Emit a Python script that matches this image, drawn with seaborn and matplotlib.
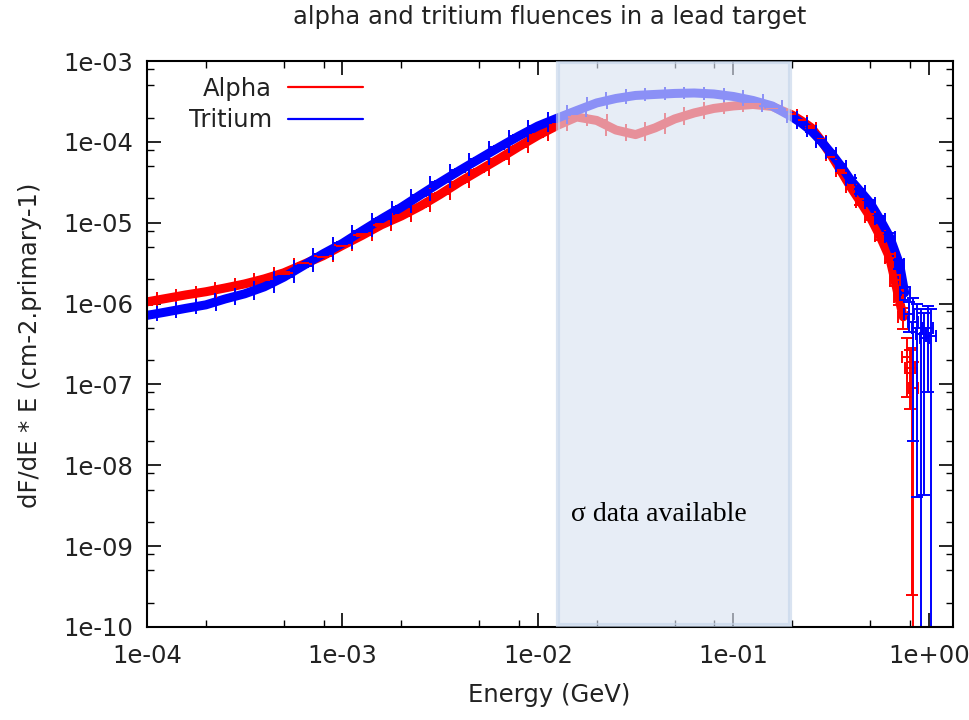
import numpy as np
import pandas as pd
import matplotlib
matplotlib.use("Agg")
import matplotlib.pyplot as plt
import seaborn as sns
from matplotlib.lines import Line2D
from matplotlib.ticker import LogLocator, FuncFormatter, NullFormatter

# ---------------- data ----------------
energy_main = [1.00e-4, 1.26e-4, 1.58e-4, 2.00e-4, 2.51e-4, 3.16e-4, 3.98e-4, 5.01e-4, 6.31e-4, 7.94e-4,
               1.00e-3, 1.26e-3, 1.58e-3, 2.00e-3, 2.51e-3, 3.16e-3, 3.98e-3, 5.01e-3, 6.31e-3, 7.94e-3,
               1.00e-2, 1.26e-2, 1.58e-2, 2.00e-2, 2.51e-2, 3.16e-2, 3.98e-2, 5.01e-2, 6.31e-2, 7.94e-2,
               0.100, 0.126, 0.158, 0.200, 0.224, 0.251, 0.282, 0.316, 0.355, 0.398, 0.447, 0.501,
               0.562, 0.631]

alpha_main = [1.05e-6, 1.16e-6, 1.28e-6, 1.40e-6, 1.56e-6, 1.75e-6, 2.02e-6, 2.40e-6, 3.05e-6, 3.89e-6,
              5.24e-6, 6.97e-6, 9.40e-6, 1.21e-5, 1.61e-5, 2.24e-5, 3.19e-5, 4.43e-5, 6.15e-5, 8.65e-5,
              1.20e-4, 1.60e-4, 2.03e-4, 1.84e-4, 1.40e-4, 1.23e-4, 1.49e-4, 1.92e-4, 2.28e-4, 2.59e-4,
              2.78e-4, 2.90e-4, 2.74e-4, 2.15e-4, 1.81e-4, 1.49e-4, 1.03e-4, 6.89e-5, 4.37e-5, 2.77e-5,
              1.81e-5, 1.18e-5, 6.87e-6, 3.67e-6]

tritium_main = [7.14e-7, 7.89e-7, 8.73e-7, 9.64e-7, 1.14e-6, 1.32e-6, 1.61e-6, 2.12e-6, 2.95e-6, 4.11e-6,
                5.55e-6, 7.92e-6, 1.11e-5, 1.55e-5, 2.21e-5, 3.15e-5, 4.43e-5, 6.15e-5, 8.53e-5, 1.17e-4,
                1.57e-4, 1.97e-4, 2.44e-4, 3.03e-4, 3.44e-4, 3.75e-4, 3.86e-4, 3.97e-4, 4.02e-4, 3.91e-4,
                3.64e-4, 3.25e-4, 2.78e-4, 2.03e-4, 1.69e-4, 1.36e-4, 1.01e-4, 7.29e-5, 5.04e-5, 3.38e-5,
                2.44e-5, 1.76e-5, 1.11e-5, 6.68e-6]

rel_err_main = [0.08, 0.03, 0.03, 0.03, 0.03, 0.03, 0.03, 0.03, 0.03, 0.03,
                0.03, 0.03, 0.03, 0.03, 0.03, 0.03, 0.03, 0.03, 0.03, 0.03,
                0.03, 0.03, 0.03, 0.03, 0.03, 0.03, 0.03, 0.03, 0.03, 0.03,
                0.03, 0.03, 0.03, 0.03, 0.04, 0.04, 0.05, 0.05, 0.06, 0.07, 0.08, 0.09,
                0.10, 0.12]

alpha_tail_e = [0.67, 0.70, 0.74, 0.77, 0.80, 0.82, 0.835]
alpha_tail_f = [1.96e-6, 1.21e-6, 6.85e-7, 2.2e-7, 1.6e-7, 1.4e-7, 9.0e-8]
alpha_tail_df = [3.0e-7, 2.5e-7, 2.0e-7, 1.5e-7, 1.1e-7, 1.3975e-7, 1.0e-7]

tritium_tail_e = [0.708, 0.753, 0.79, 0.83, 0.87, 0.91, 0.95, 0.99, 1.03]
tritium_tail_f = [3.1e-6, 1.36e-6, 7.5e-7, 6.0e-7, 5.0e-7, 4.2e-7, 3.8e-7, 5.0e-7, 4.0e-7]
tritium_tail_df = [4.0e-7, 2.5e-7, 3.0e-7, 5.8e-7, 4.96e-7, 4.4e-7, 3.757e-7, 4.2e-7, 4.5e-7]

series_names = ["Alpha", "Tritium"]
series_colors = {"Alpha": "#ff0000", "Tritium": "#0000ff"}
sigma_range = (0.0127, 0.195)

# ---------------- build tables ----------------
rows = []
for name, main in (("Alpha", alpha_main), ("Tritium", tritium_main)):
    for e, f, r in zip(energy_main, main, rel_err_main):
        hw = 0.05 if e < 0.19 else 0.025
        rows.append(dict(series=name, E=e, F=f, dF=f * r, hw=hw, band=True))
for e, f, d in zip(alpha_tail_e, alpha_tail_f, alpha_tail_df):
    rows.append(dict(series="Alpha", E=e, F=f, dF=d, hw=0.025, band=e <= 0.745))
for e, f, d in zip(tritium_tail_e, tritium_tail_f, tritium_tail_df):
    rows.append(dict(series="Tritium", E=e, F=f, dF=d, hw=0.025, band=e <= 0.76))
df = pd.DataFrame(rows)

# ---------------- plot ----------------
sns.set_style("ticks")
plt.rcParams["font.family"] = ["DejaVu Sans"]
FS = 17.5

fig = plt.figure(figsize=(9.69, 7.2), dpi=100)
ax = fig.add_axes([147 / 969, 1 - 627 / 720, (953 - 147) / 969, (627 - 61) / 720])
ax.set_xscale("log")
ax.set_yscale("log")

band = df[df.band]
sns.lineplot(data=band, x="E", y="F", hue="series", palette=series_colors,
             hue_order=series_names, lw=6.5, legend=False, ax=ax, zorder=2,
             estimator=None, sort=True)

for name in series_names:
    d = df[df.series == name]
    E = d.E.to_numpy(); F = d.F.to_numpy(); dF = d.dF.to_numpy(); hw = d.hw.to_numpy()
    lower = np.minimum(dF, F * (1 - 1e-7))
    xlo = E - E * 10 ** (-hw)
    xhi = E * 10 ** hw - E
    ax.errorbar(E, F, yerr=[lower, dF], xerr=[xlo, xhi], fmt="none",
                ecolor=series_colors[name], elinewidth=1.4, capsize=4,
                capthick=1.4, zorder=2)

ax.set_xlim(1e-4, 1.33)
ax.set_ylim(1e-10, 1e-3)

# shaded "sigma data available" band
ax.axvspan(sigma_range[0], sigma_range[1], ymin=0.004, ymax=0.998,
           facecolor=(218 / 255, 227 / 255, 242 / 255), edgecolor=(196 / 255, 212 / 255, 234 / 255),
           lw=3, alpha=0.64, zorder=3)
ax.text(0.0148, 2.02e-9, "σ data available", family=["Liberation Serif", "DejaVu Serif"],
        fontsize=20, color="black", ha="left", va="baseline", zorder=4)

# ticks
fmt = FuncFormatter(lambda v, p: f"{v:.0e}")
for axis in (ax.xaxis, ax.yaxis):
    axis.set_major_locator(LogLocator(base=10, numticks=20))
    axis.set_minor_locator(LogLocator(base=10, subs=(2, 5, 8), numticks=20))
    axis.set_major_formatter(fmt)
    axis.set_minor_formatter(NullFormatter())
ax.tick_params(which="both", direction="in", top=True, right=True, color="black",
               labelsize=FS, labelcolor="#222222")
ax.tick_params(which="major", length=10, width=1.2)
ax.tick_params(which="minor", length=5, width=1.0)
ax.tick_params(axis="x", which="major", pad=12)
ax.tick_params(axis="y", which="major", pad=10)
for s in ax.spines.values():
    s.set_visible(True)
    s.set_linewidth(1.5)
    s.set_color("black")
ax.set_xlabel("")
ax.set_ylabel("")

# legend (gnuplot style: text then sample)
handles = [Line2D([], [], color=series_colors[n], lw=1.6) for n in series_names]
ax.legend(handles, series_names, loc="upper right", bbox_to_anchor=(0.268, 0.972),
          frameon=False, markerfirst=False, fontsize=FS, handlelength=3.1,
          handletextpad=0.65, borderpad=0, borderaxespad=0, labelspacing=0.3,
          labelcolor="#222222")

fig.text(550 / 969, 1 - 17 / 720, "alpha and tritium fluences in a lead target",
         ha="center", va="center", fontsize=FS, color="#222222")
fig.text(549 / 969, 1 - 695 / 720, "Energy (GeV)", ha="center", va="center",
         fontsize=FS, color="#222222")
fig.text(30 / 969, 1 - 345 / 720, "dF/dE * E (cm-2.primary-1)", ha="center", va="center",
         rotation=90, fontsize=FS, color="#222222")

fig.savefig("out.png", dpi=100, facecolor="white")
